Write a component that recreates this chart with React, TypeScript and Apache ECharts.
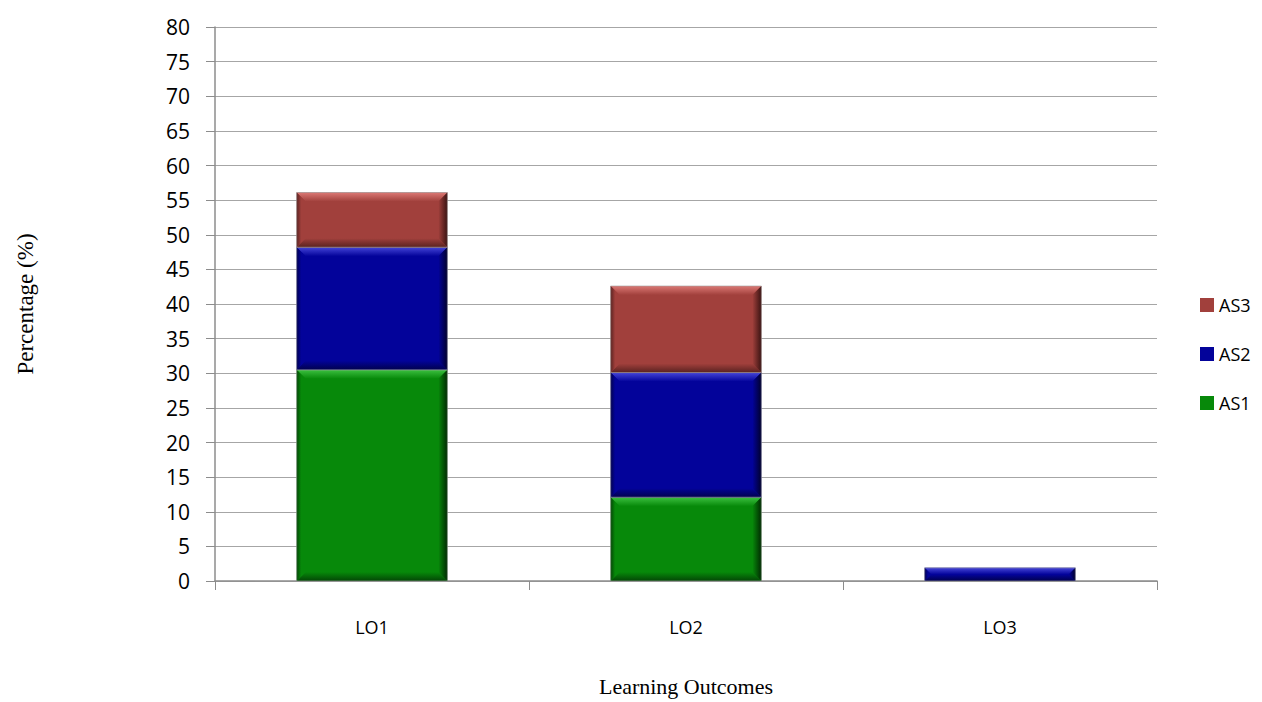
import React, { useEffect, useRef } from "react";
import * as echarts from "echarts";

const categories = ["LO1", "LO2", "LO3"];
const seriesNames = ["AS1", "AS2", "AS3"];
const as1 = [30.5, 12.1, 0];
const as2 = [17.7, 18.0, 1.9];
const as3 = [7.9, 12.5, 0];
const yTicks = { min: 0, max: 80, interval: 5 };

const palette: Record<string, { base: string; light: string; dark: string; side: string }> = {
  AS1: { base: "#07890A", light: "#3cc040", dark: "#034605", side: "#012a02" },
  AS2: { base: "#03039A", light: "#4545d8", dark: "#01014e", side: "#00002c" },
  AS3: { base: "#A1403C", light: "#db7874", dark: "#5a2220", side: "#3a1312" },
};

function buildData(values: number[], below: number[][]) {
  return values.map((v, i) => {
    const base = below.reduce((s, arr) => s + arr[i], 0);
    return [i, base + v, base];
  });
}

export default function App() {
  const ref = useRef<HTMLDivElement>(null);
  useEffect(() => {
    const chart = echarts.init(ref.current!, null, { renderer: "svg" });
    const LG = echarts.graphic.LinearGradient as any;
    const mk = (name: string, data: number[][]) => {
      const c = palette[name];
      return {
        name,
        type: "custom",
        data,
        encode: { x: 0, y: [1, 2] },
        itemStyle: { color: c.base },
        renderItem: (params: any, api: any) => {
          const idx = api.value(0);
          const top = api.value(1);
          const base = api.value(2);
          if (top - base <= 0) return { type: "group", children: [] };
          const pT = api.coord([idx, top]);
          const pB = api.coord([idx, base]);
          const w = api.size([1, 0])[0] * 0.48;
          const x0 = pT[0] - w / 2;
          const x1 = x0 + w;
          const yT = pT[1];
          const yB = pB[1];
          const h = yB - yT;
          const b = Math.min(9, h / 2, w / 2);
          return {
            type: "group",
            children: [
              { type: "rect", shape: { x: x0, y: yT, width: w, height: h }, style: { fill: c.base } },
              {
                type: "polygon",
                shape: { points: [[x0, yT], [x1, yT], [x1 - b, yT + b], [x0 + b, yT + b]] },
                style: { fill: new LG(0, 0, 0, 1, [{ offset: 0, color: c.light }, { offset: 1, color: c.base }]) },
              },
              {
                type: "polygon",
                shape: { points: [[x0, yB], [x1, yB], [x1 - b, yB - b], [x0 + b, yB - b]] },
                style: { fill: new LG(0, 0, 0, 1, [{ offset: 0, color: c.base }, { offset: 1, color: c.dark }]) },
              },
              {
                type: "polygon",
                shape: { points: [[x1, yT], [x1, yB], [x1 - b, yB - b], [x1 - b, yT + b]] },
                style: { fill: new LG(0, 0, 1, 0, [{ offset: 0, color: c.base }, { offset: 1, color: c.side }]) },
              },
              {
                type: "polygon",
                shape: { points: [[x0, yT], [x0, yB], [x0 + b, yB - b], [x0 + b, yT + b]] },
                style: { fill: new LG(0, 0, 1, 0, [{ offset: 0, color: c.dark }, { offset: 0.5, color: c.base }, { offset: 1, color: c.base }]) },
              },
              { type: "rect", shape: { x: x0, y: yT, width: w, height: h }, style: { fill: "none", stroke: "rgba(160,160,160,0.6)", lineWidth: 1 } },
            ],
          };
        },
      };
    };
    chart.setOption({
      animation: false,
      backgroundColor: "#ffffff",
      grid: { left: 215, right: 105, top: 27, bottom: 101 },
      legend: {
        orient: "vertical",
        left: 1195,
        top: 291,
        itemGap: 31,
        itemWidth: 14,
        itemHeight: 14,
        icon: "rect",
        data: ["AS3", "AS2", "AS1"],
        textStyle: { fontFamily: "Open Sans, sans-serif", fontSize: 18, color: "#000" },
      },
      xAxis: {
        type: "category",
        data: categories,
        name: "Learning Outcomes",
        nameLocation: "middle",
        nameGap: 94,
        nameTextStyle: { fontFamily: "Liberation Serif, serif", fontSize: 22, color: "#000" },
        axisLine: { lineStyle: { color: "#8c8c8c", width: 1.5 } },
        axisTick: { show: true, length: 9, alignWithLabel: false, lineStyle: { color: "#8c8c8c" } },
        axisLabel: { fontFamily: "Open Sans, sans-serif", fontSize: 18, color: "#000", margin: 37 },
      },
      yAxis: {
        type: "value",
        min: yTicks.min,
        max: yTicks.max,
        interval: yTicks.interval,
        name: "Percentage (%)",
        nameLocation: "middle",
        nameGap: 178,
        nameRotate: 90,
        nameTextStyle: { fontFamily: "Liberation Serif, serif", fontSize: 23, color: "#000" },
        axisLine: { show: true, lineStyle: { color: "#8c8c8c", width: 1.5 } },
        axisTick: { show: true, length: 9, lineStyle: { color: "#8c8c8c" } },
        axisLabel: { fontFamily: "Open Sans, sans-serif", fontSize: 21, color: "#000", margin: 25 },
        splitLine: { lineStyle: { color: "#a6a6a6", width: 1.2 } },
      },
      series: [
        mk(seriesNames[0], buildData(as1, [])),
        mk(seriesNames[1], buildData(as2, [as1])),
        mk(seriesNames[2], buildData(as3, [as1, as2])),
      ],
    });
    return () => chart.dispose();
  }, []);
  return <div ref={ref} style={{ width: 1262, height: 702, position: "absolute", left: 0, top: 0 }} />;
}
